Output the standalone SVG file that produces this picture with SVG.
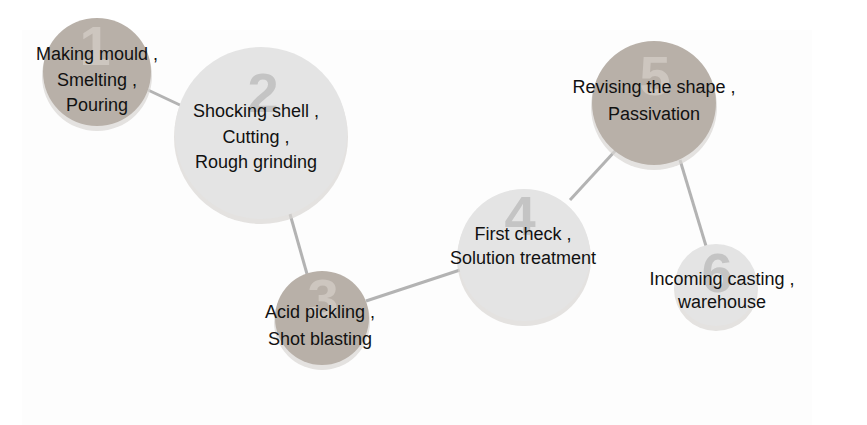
<svg xmlns="http://www.w3.org/2000/svg" width="867" height="425" viewBox="0 0 867 425">
<style>
.dark{fill:#b8b0a8}
.light{fill:#e4e4e4}
.sh{fill:#d9d6d3;opacity:0.7}
.dnum{font-family:"Liberation Sans",Arial,sans-serif;font-weight:bold;font-size:56px;fill:#cdc6bf;text-anchor:middle}
.lnum{font-family:"Liberation Sans",Arial,sans-serif;font-weight:bold;font-size:56px;fill:#c4c4c4;text-anchor:middle}
.lbl{font-family:"Liberation Sans",Arial,sans-serif;font-size:18px;fill:#111111;text-anchor:middle}
.conn{stroke:#b3b3b3;stroke-width:3;fill:none}
</style>
<rect x="0" y="0" width="867" height="425" fill="#ffffff"/>
<rect x="22" y="30" width="790" height="395" fill="#fdfdfd"/>
<g id="connectors">
<line class="conn" x1="148" y1="90" x2="182" y2="106"/>
<line class="conn" x1="290" y1="214" x2="307" y2="274"/>
<line class="conn" x1="366" y1="301" x2="460" y2="270"/>
<line class="conn" x1="570" y1="200" x2="616" y2="150"/>
<line class="conn" x1="680" y1="160" x2="706" y2="246"/>
</g>
<g id="node1">
<circle class="sh" cx="97" cy="76" r="55"/>
<circle class="dark" cx="97" cy="72" r="54"/>
<text class="dnum" x="95" y="65">1</text>
<text class="lbl" x="97" y="60">Making mould ,</text>
<text class="lbl" x="97" y="86">Smelting ,</text>
<text class="lbl" x="97" y="111">Pouring</text>
</g>
<g id="node2">
<circle class="sh" cx="261" cy="137" r="87"/>
<circle class="light" cx="261" cy="133" r="86"/>
<text class="lnum" x="263" y="112">2</text>
<text class="lbl" x="256" y="117">Shocking shell ,</text>
<text class="lbl" x="256" y="143">Cutting ,</text>
<text class="lbl" x="256" y="168">Rough grinding</text>
</g>
<g id="node3">
<circle class="sh" cx="322" cy="322" r="48"/>
<circle class="dark" cx="322" cy="318" r="47"/>
<text class="dnum" x="323" y="318">3</text>
<text class="lbl" x="320" y="318">Acid pickling ,</text>
<text class="lbl" x="320" y="345">Shot blasting</text>
</g>
<g id="node4">
<circle class="sh" cx="524" cy="259" r="67"/>
<circle class="light" cx="524" cy="255" r="66"/>
<text class="lnum" x="520" y="235">4</text>
<text class="lbl" x="523" y="240">First check ,</text>
<text class="lbl" x="523" y="264">Solution treatment</text>
</g>
<g id="node5">
<circle class="sh" cx="654" cy="107" r="63"/>
<circle class="dark" cx="654" cy="103" r="62"/>
<text class="dnum" x="655" y="95">5</text>
<text class="lbl" x="654" y="93">Revising the shape ,</text>
<text class="lbl" x="654" y="120">Passivation</text>
</g>
<g id="node6">
<circle class="sh" cx="716" cy="289" r="42"/>
<circle class="light" cx="716" cy="285" r="41"/>
<text class="lnum" x="717" y="292">6</text>
<text class="lbl" x="722" y="285">Incoming casting ,</text>
<text class="lbl" x="722" y="308">warehouse</text>
</g>
</svg>
